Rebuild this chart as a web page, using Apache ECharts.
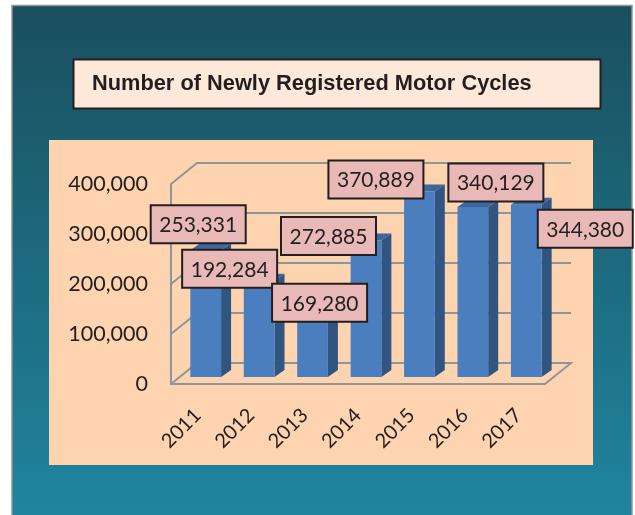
<!DOCTYPE html>
<html>
<head>
<meta charset="utf-8">
<title>Number of Newly Registered Motor Cycles</title>
<script src="https://cdn.jsdelivr.net/npm/echarts@6/dist/echarts.min.js"></script>
<style>
  html, body { margin: 0; padding: 0; background: #fff; }
  #main { width: 635px; height: 515px; }
</style>
</head>
<body>
<div id="main"></div>
<script>
var titleText = 'Number of Newly Registered Motor Cycles';
var years = ['2011', '2012', '2013', '2014', '2015', '2016', '2017'];
var registered = [253331, 192284, 169280, 272885, 370889, 340129, 344380];
var yTicks = [0, 100000, 200000, 300000, 400000];

// where each callout sits relative to the top of its bar
var calloutOffsetX = [-7.5, -29.5, 7, -37.5, -43.5, 23, 59];
var calloutOffsetY = [-26, -12, 10.5, -4.5, -12, -24.5, 24];

// fake 3d: back wall depth, and how far the bars stand in from the front edge
var wallDx = 26, wallDy = -21;
var barInX = 8, barInY = -7;
var barDx = 10, barDy = -7;

var chart = echarts.init(document.getElementById('main'));

function wallItem(params, api) {
    var cs = params.coordSys;
    var y = api.coord([0, api.value(1)])[1];
    var left = cs.x, right = cs.x + cs.width;
    var pts = [[left, y], [left + wallDx, y + wallDy], [right + wallDx, y + wallDy]];
    if (api.value(1) === 0) {
        pts = [[right, y], [right + wallDx, y + wallDy], [left + wallDx, y + wallDy], [left, y]];
    }
    return {
        type: 'polyline',
        shape: { points: pts },
        style: { stroke: '#8f9796', lineWidth: 2, fill: null }
    };
}

function barItem(params, api) {
    var top = api.coord([api.value(0), api.value(1)]);
    var base = api.coord([api.value(0), 0]);
    var w = api.size([1, 0])[0] * 0.575;
    var x0 = top[0] - w / 2 + barInX, x1 = x0 + w;
    var yT = top[1] + barInY, yB = base[1] + barInY;
    return {
        type: 'group',
        children: [
            { type: 'polygon', shape: { points: [[x1, yT], [x1 + barDx, yT + barDy], [x1 + barDx, yB + barDy], [x1, yB]] }, style: { fill: '#2f5580' } },
            { type: 'polygon', shape: { points: [[x0, yT], [x0 + barDx, yT + barDy], [x1 + barDx, yT + barDy], [x1, yT]] }, style: { fill: '#3b689c' } },
            { type: 'rect', shape: { x: x0, y: yT, width: w, height: yB - yT }, style: { fill: '#4a7ebf' } }
        ]
    };
}

function calloutItem(params, api) {
    var i = params.dataIndex;
    var top = api.coord([api.value(0), api.value(1)]);
    var cx = top[0] + barInX + calloutOffsetX[i];
    var cy = top[1] + barInY + calloutOffsetY[i];
    return {
        type: 'group',
        children: [
            { type: 'rect', shape: { x: cx - 47.5, y: cy - 19, width: 95, height: 38 }, style: { fill: '#e8b9b6', stroke: '#231f20', lineWidth: 2 } },
            { type: 'text', style: { x: cx, y: cy + 1, text: registered[i].toLocaleString('en-US'), align: 'center', verticalAlign: 'middle', fill: '#231f20', font: '21px Lato' } }
        ]
    };
}

chart.setOption({
    animation: false,
    title: {
        text: titleText,
        left: 87,
        top: 68,
        textStyle: { color: '#231f20', fontFamily: 'Liberation Sans', fontWeight: 'bold', fontSize: 21.8 }
    },
    graphic: [
        {
            type: 'rect', z: 0,
            shape: { x: 12, y: 5.5, width: 620, height: 512 },
            style: {
                stroke: '#8f9796', lineWidth: 1.5,
                fill: { type: 'linear', x: 0, y: 0, x2: 0, y2: 1, colorStops: [
                    { offset: 0, color: '#1a4f5e' },
                    { offset: 1, color: '#20859f' }
                ] }
            }
        },
        { type: 'rect', z: 0, shape: { x: 49, y: 140, width: 544, height: 325 }, style: { fill: '#fdd3b0' } },
        { type: 'rect', z: 0, shape: { x: 73.5, y: 59.5, width: 527, height: 49 }, style: { fill: '#fde8d9', stroke: '#231f20', lineWidth: 2 } }
    ],
    grid: { left: 171, right: 90, top: 184, bottom: 131 },
    xAxis: {
        type: 'category',
        data: years,
        axisTick: { show: false },
        axisLine: { lineStyle: { color: '#8f9796', width: 2 } },
        axisLabel: { rotate: 45, margin: 28, color: '#231f20', fontFamily: 'Lato', fontSize: 20 }
    },
    yAxis: {
        type: 'value',
        min: 0,
        max: 400000,
        interval: 100000,
        splitLine: { show: false },
        axisTick: { show: false },
        axisLine: { show: true, lineStyle: { color: '#8f9796', width: 2 } },
        axisLabel: {
            margin: 23, color: '#231f20', fontFamily: 'Lato', fontSize: 21.5,
            formatter: function (v) { return v.toLocaleString('en-US'); }
        }
    },
    series: [
        { type: 'custom', z: 1, silent: true, renderItem: wallItem, data: yTicks.map(function (v) { return [0, v]; }) },
        { type: 'custom', z: 2, renderItem: barItem, data: registered.map(function (v, i) { return [i, v]; }) },
        { type: 'custom', z: 5, renderItem: calloutItem, data: registered.map(function (v, i) { return [i, v]; }) }
    ]
});
</script>
</body>
</html>
